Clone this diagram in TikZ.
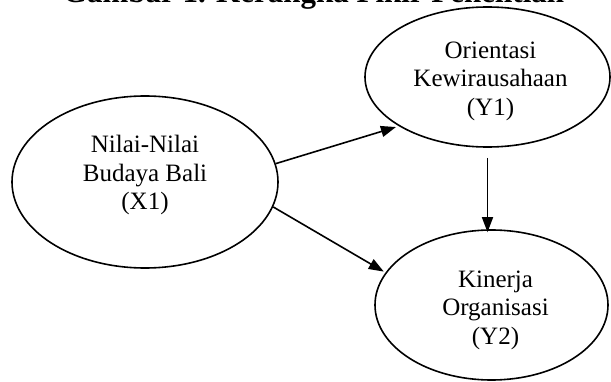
\documentclass[tikz,border=0pt]{standalone}
\usepackage{fontspec}
\setmainfont{Liberation Serif}
\usetikzlibrary{shapes.geometric,arrows.meta}
\begin{document}
\begin{tikzpicture}[x=1pt,y=1pt,
  varell/.style={draw=black,line width=1.6pt,ellipse,inner sep=0pt},
  vartxt/.style={align=center,font=\fontsize{25}{28.5}\selectfont,inner sep=0pt},
  arr/.style={line width=1.6pt,-{Triangle[length=15pt,width=11pt]}}]
\clip (0,0) rectangle (611,381);
\node[font=\bfseries\fontsize{31}{36}\selectfont,anchor=base,inner sep=0pt] (title) at (313.5,378) {Gambar 1. Kerangka Pikir Penelitian};
\node[varell,minimum width=266pt,minimum height=172pt] (x1) at (145,199) {};
\node[varell,minimum width=245pt,minimum height=140pt] (y1) at (487.5,304) {};
\node[varell,minimum width=233pt,minimum height=150pt] (y2) at (491.5,76) {};
\node[vartxt] (x1t) at (145,381-175.25) {Nilai-Nilai\\Budaya Bali\\(X1)};
\node[vartxt] (y1t) at (490.5,381-81.25) {Orientasi\\Kewirausahaan\\(Y1)};
\node[vartxt] (y2t) at (495.5,381-310.25) {Kinerja\\Organisasi\\(Y2)};
\draw[arr,shorten >=3pt] (x1.8.6) -- (y1.209);
\draw[arr,shorten >=2pt] (x1.-11) -- (y2.163);
\draw[arr,shorten <=10pt,shorten >=-3pt] (y1.south) -- (y1.south |- y2.north);
\end{tikzpicture}
\end{document}
